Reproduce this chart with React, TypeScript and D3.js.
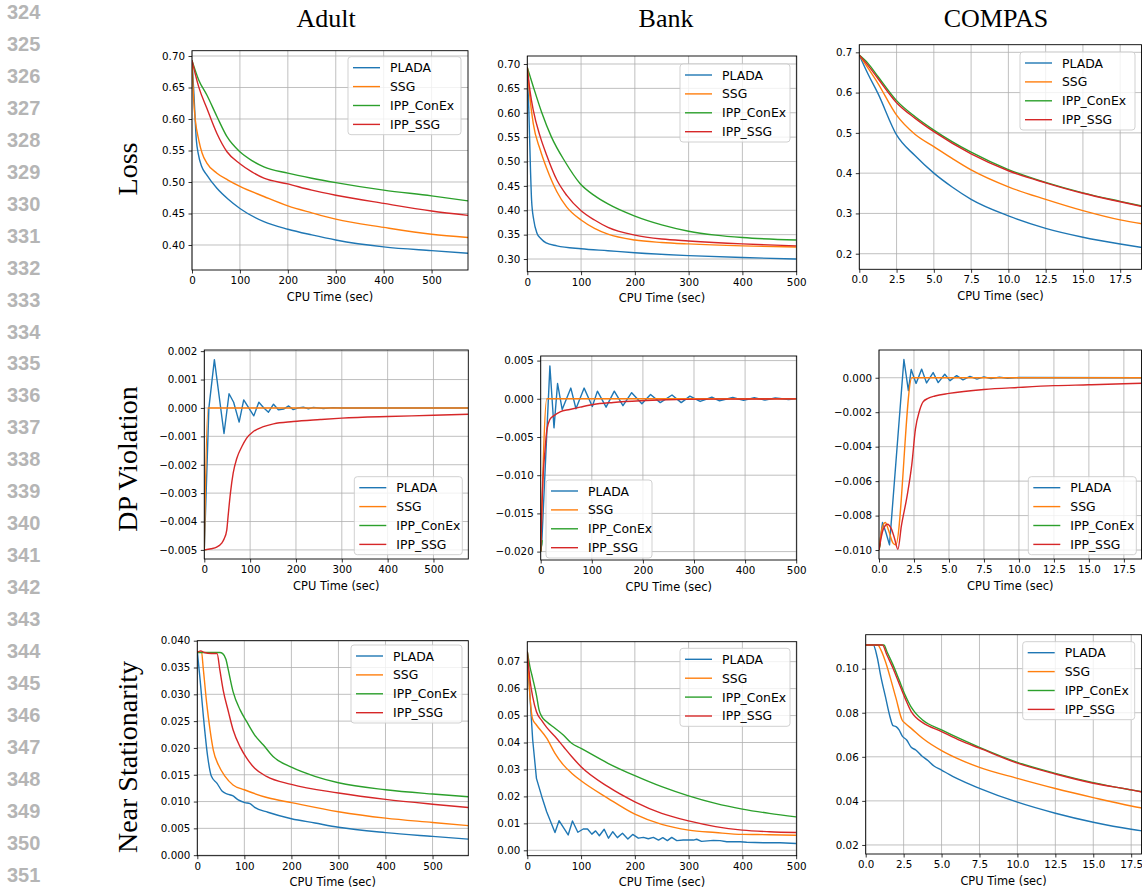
import React, { useRef, useEffect } from "react";
import * as d3 from "d3";

type Pt = [number, number];

const seriesNames = ["PLADA", "SSG", "IPP_ConEx", "IPP_SSG"];
const seriesColors = ["#1f77b4", "#ff7f0e", "#2ca02c", "#d62728"];
const datasetNames = ["Adult", "Bank", "COMPAS"];
const metricNames = ["Loss", "DP Violation", "Near Stationarity"];
const lineNumbers = [324, 325, 326, 327, 328, 329, 330, 331, 332, 333, 334, 335, 336, 337, 338, 339, 340, 341, 342, 343, 344, 345, 346, 347, 348, 349, 350, 351];

// tick values
const secondsTicks = [0, 100, 200, 300, 400, 500];
const compasTicks = [0, 2.5, 5, 7.5, 10, 12.5, 15, 17.5];
const adultLossTicks = [0.4, 0.45, 0.5, 0.55, 0.6, 0.65, 0.7];
const bankLossTicks = [0.3, 0.35, 0.4, 0.45, 0.5, 0.55, 0.6, 0.65, 0.7];
const compasLossTicks = [0.2, 0.3, 0.4, 0.5, 0.6, 0.7];
const adultDpTicks = [-0.005, -0.004, -0.003, -0.002, -0.001, 0, 0.001, 0.002];
const bankDpTicks = [-0.02, -0.015, -0.01, -0.005, 0, 0.005];
const compasDpTicks = [-0.01, -0.008, -0.006, -0.004, -0.002, 0];
const adultNsTicks = [0, 0.005, 0.01, 0.015, 0.02, 0.025, 0.03, 0.035, 0.04];
const bankNsTicks = [0, 0.01, 0.02, 0.03, 0.04, 0.05, 0.06, 0.07];
const compasNsTicks = [0.02, 0.04, 0.06, 0.08, 0.1];

// ---- Loss ----
const adultLossPLADA: Pt[] = [[0, 0.693], [4, 0.64], [9, 0.567], [13, 0.545], [20, 0.525], [30, 0.512], [52, 0.49], [75, 0.473], [100, 0.458], [150, 0.437], [200, 0.425], [250, 0.416], [300, 0.408], [400, 0.397], [500, 0.391], [576, 0.387]];
const adultLossSSG: Pt[] = [[0, 0.693], [3.5, 0.63], [7, 0.598], [14, 0.567], [21, 0.546], [31, 0.53], [52, 0.514], [75, 0.503], [100, 0.493], [150, 0.477], [200, 0.462], [250, 0.451], [300, 0.441], [400, 0.428], [500, 0.417], [576, 0.412]];
const adultLossConEx: Pt[] = [[0, 0.693], [14, 0.662], [31, 0.638], [52, 0.604], [73, 0.572], [100, 0.548], [125, 0.534], [150, 0.524], [200, 0.514], [250, 0.506], [300, 0.499], [400, 0.487], [500, 0.478], [576, 0.47]];
const adultLossIppSSG: Pt[] = [[0, 0.693], [14, 0.651], [31, 0.617], [52, 0.577], [73, 0.548], [100, 0.529], [125, 0.516], [150, 0.506], [200, 0.497], [250, 0.487], [300, 0.479], [400, 0.466], [500, 0.454], [576, 0.447]];

const bankLossPLADA: Pt[] = [[0, 0.693], [3, 0.6], [6, 0.48], [8, 0.42], [12, 0.38], [18, 0.353], [25, 0.342], [35, 0.333], [55, 0.327], [100, 0.321], [150, 0.317], [200, 0.313], [300, 0.307], [400, 0.303], [500, 0.3]];
const bankLossSSG: Pt[] = [[0, 0.693], [5, 0.63], [11, 0.578], [24, 0.524], [36, 0.486], [55, 0.438], [73, 0.407], [100, 0.38], [125, 0.363], [150, 0.351], [200, 0.339], [250, 0.334], [300, 0.331], [400, 0.327], [500, 0.3246]];
const bankLossConEx: Pt[] = [[0, 0.693], [11, 0.654], [27, 0.6], [45, 0.55], [70, 0.5], [98, 0.455], [125, 0.43], [150, 0.413], [200, 0.388], [250, 0.37], [300, 0.357], [350, 0.349], [400, 0.344], [500, 0.339]];
const bankLossIppSSG: Pt[] = [[0, 0.693], [5, 0.645], [11, 0.606], [24, 0.551], [36, 0.513], [55, 0.462], [73, 0.431], [100, 0.399], [125, 0.38], [150, 0.365], [200, 0.349], [250, 0.341], [300, 0.337], [400, 0.331], [500, 0.327]];

const compasLossPLADA: Pt[] = [[0, 0.693], [0.6, 0.645], [1.25, 0.598], [2.5, 0.495], [3.75, 0.443], [5, 0.4], [6.25, 0.365], [7.5, 0.335], [10, 0.294], [12.5, 0.263], [15, 0.241], [17.5, 0.224], [19, 0.215]];
const compasLossSSG: Pt[] = [[0, 0.693], [0.6, 0.66], [1.25, 0.623], [2.5, 0.544], [3.75, 0.496], [5, 0.466], [6.25, 0.436], [7.5, 0.408], [10, 0.366], [12.5, 0.335], [15, 0.307], [17.5, 0.284], [19, 0.274]];
const compasLossConEx: Pt[] = [[0, 0.693], [0.6, 0.672], [1.25, 0.64], [2.5, 0.58], [3.75, 0.54], [5, 0.507], [7.5, 0.452], [10, 0.409], [12.5, 0.377], [15, 0.351], [17.5, 0.33], [19, 0.318]];
const compasLossIppSSG: Pt[] = [[0, 0.693], [0.6, 0.667], [1.25, 0.635], [2.5, 0.575], [3.75, 0.536], [5, 0.503], [7.5, 0.448], [10, 0.406], [12.5, 0.376], [15, 0.35], [17.5, 0.329], [19, 0.317]];

// ---- DP Violation ----
const adultDpPLADA: Pt[] = [[0, -0.005], [10, 0], [22, 0.0017], [43, -0.0009], [54, 0.0005], [64, 0.0002], [76, -0.0005], [86, 0.00028], [97, 0], [108, -0.00028], [119, 0.0002], [130, 0], [140, -0.00015], [151, 0.00013], [162, -0.00007], [173, -0.00004], [184, 0.00007], [194, -0.00006], [205, 0], [216, 0.00003], [227, -0.00003], [238, 0.00002], [260, -0.00002], [280, 0.00001], [300, 0], [576, 0]];
const adultDpSSG: Pt[] = [[0, -0.005], [8, 0], [576, 0]];
const adultDpConEx: Pt[] = [[0, -0.005], [5, -0.00499]];
const adultDpIppSSG: Pt[] = [[0, -0.005], [15, -0.00496], [27, -0.0049], [38, -0.00476], [43, -0.00462], [49, -0.0043], [52, -0.0038], [57, -0.003], [63, -0.0023], [71, -0.00177], [82, -0.00136], [92, -0.00107], [107, -0.00083], [129, -0.00066], [151, -0.00056], [194, -0.00048], [253, -0.00041], [300, -0.00036], [400, -0.0003], [500, -0.00026], [576, -0.00022]];

const bankDpPLADA: Pt[] = [[0, -0.02], [2, -0.019], [18, 0.0043], [26, -0.0038], [33, 0.002], [42, -0.0014], [59, 0.0014], [69, -0.0013], [85, 0.0014], [101, -0.001], [111, 0.001], [128, -0.0011], [144, 0.001], [161, -0.0009], [178, 0.0008], [198, -0.00065], [215, 0.00057], [234, -0.0005], [257, 0.0005], [275, -0.0005], [292, 0.00035], [312, -0.00035], [335, 0.0002], [350, -0.00026], [376, 0.00017], [397, -0.0002], [418, 0.00013], [439, -0.00017], [459, 0.0001], [485, -0.0001], [500, 0]];
const bankDpSSG: Pt[] = [[0, -0.02], [12, 0], [500, 0]];
const bankDpConEx: Pt[] = [[0, -0.02], [3, -0.0185]];
const bankDpIppSSG: Pt[] = [[0, -0.02], [2, -0.015], [5, -0.0098], [8.5, -0.0067], [12, -0.0041], [18, -0.0027], [26, -0.0022], [38, -0.0017], [57, -0.0014], [77, -0.0011], [103, -0.00074], [142, -0.00048], [195, -0.00026], [247, -0.00013], [338, -0.00004], [500, -0.00001]];

const compasDpPLADA: Pt[] = [[0, -0.01], [0.25, -0.0084], [0.5, -0.009], [0.75, -0.0097], [1.78, 0.00106], [2.1, -0.00075], [2.3, 0.00048], [2.65, -0.00033], [3.05, 0.0005], [3.4, -0.0003], [3.87, 0.0003], [4.23, -0.00028], [4.7, 0.0002], [5.07, -0.00017], [5.55, 0.00012], [6, -0.00012], [6.5, 0.00008], [7, -0.00008], [7.5, 0.00005], [8, -0.00005], [8.6, 0.00003], [9.2, -0.00003], [10, 0.00001], [19, 0]];
const compasDpSSG: Pt[] = [[0, -0.01], [0.2, -0.0088], [0.45, -0.0084], [0.7, -0.0089], [1, -0.0096], [1.2, -0.0097], [2.35, 0], [19, 0]];
const compasDpConEx: Pt[] = [[0, -0.01], [0.1, -0.0096]];
const compasDpIppSSG: Pt[] = [[0, -0.01], [0.3, -0.0088], [0.6, -0.0085], [0.9, -0.0088], [1.1, -0.0093], [1.35, -0.00996], [1.6, -0.0086], [2, -0.0069], [2.35, -0.005], [2.6, -0.003], [2.9, -0.0019], [3.15, -0.0014], [3.5, -0.0012], [4, -0.00106], [5, -0.00091], [7.5, -0.00068], [10, -0.00056], [12.5, -0.00046], [15, -0.00041], [17.5, -0.00035], [19, -0.00031]];

// ---- Near Stationarity ----
const adultNsPLADA: Pt[] = [[0, 0.038], [6, 0.0327], [13, 0.0258], [22, 0.0184], [30, 0.0147], [42, 0.0134], [53, 0.0119], [64, 0.0114], [75, 0.0111], [87, 0.0103], [101, 0.0098], [112, 0.0096], [122, 0.0089], [150, 0.008], [200, 0.0068], [250, 0.006], [300, 0.0052], [400, 0.0042], [500, 0.0035], [576, 0.003]];
const adultNsSSG: Pt[] = [[0, 0.038], [9, 0.0378], [13, 0.0345], [20, 0.0283], [27, 0.0234], [34, 0.0196], [45, 0.0168], [59, 0.0147], [76, 0.0131], [100, 0.0122], [150, 0.0107], [200, 0.0098], [300, 0.0081], [400, 0.0069], [500, 0.0061], [576, 0.0055]];
const adultNsConEx: Pt[] = [[0, 0.0378], [48, 0.0378], [54, 0.0376], [61, 0.0365], [66, 0.0345], [76, 0.0305], [91, 0.0271], [105, 0.0249], [122, 0.0224], [140, 0.0206], [161, 0.0184], [200, 0.0164], [250, 0.0147], [300, 0.0135], [400, 0.0122], [500, 0.0114], [576, 0.0109]];
const adultNsIppSSG: Pt[] = [[0, 0.0378], [7, 0.0381], [15, 0.0378], [30, 0.0376], [42, 0.0376], [48, 0.0345], [55, 0.0308], [66, 0.0268], [76, 0.0234], [91, 0.0202], [105, 0.0181], [122, 0.0162], [147, 0.0147], [200, 0.0132], [300, 0.0116], [400, 0.0104], [500, 0.0095], [576, 0.0089]];

const bankNsPLADA: Pt[] = [[0, 0.0737], [5, 0.057], [10, 0.041], [17, 0.0267], [27, 0.0199], [36, 0.0143], [51.5, 0.0066], [59, 0.011], [76, 0.0057], [84, 0.0109], [94, 0.0067], [104, 0.0079], [112, 0.0079], [120, 0.006], [127, 0.0072], [134, 0.0054], [143, 0.0078], [151, 0.0045], [159, 0.0069], [167.5, 0.0047], [177, 0.0063], [187, 0.0042], [196, 0.0059], [206.5, 0.0045], [216, 0.0048], [225, 0.0043], [234.5, 0.0048], [244, 0.0038], [252, 0.0047], [260.5, 0.0036], [268.6, 0.0048], [278, 0.0036], [290, 0.0038], [309, 0.0038], [315, 0.0041], [324, 0.0033], [346, 0.0037], [358.5, 0.0036], [371, 0.0032], [396, 0.0032], [408, 0.003], [439, 0.0028], [470, 0.0028], [500, 0.0025]];
const bankNsSSG: Pt[] = [[0, 0.0737], [5, 0.057], [10, 0.0486], [17, 0.0465], [36, 0.0416], [51.5, 0.036], [67, 0.0317], [82.5, 0.0286], [100, 0.0258], [150, 0.0193], [200, 0.0134], [250, 0.0096], [300, 0.0075], [350, 0.0066], [400, 0.0059], [450, 0.0058], [500, 0.0056]];
const bankNsConEx: Pt[] = [[0, 0.0737], [5, 0.068], [10, 0.0638], [17, 0.0576], [22, 0.052], [27, 0.0496], [36, 0.0477], [51.5, 0.0453], [67, 0.0428], [82.5, 0.0397], [100, 0.0378], [150, 0.0323], [200, 0.0277], [250, 0.0236], [300, 0.0202], [350, 0.0174], [400, 0.0153], [450, 0.0137], [500, 0.0124]];
const bankNsIppSSG: Pt[] = [[0, 0.0737], [5, 0.0632], [10, 0.057], [17, 0.0514], [27, 0.0481], [36, 0.0456], [51.5, 0.0422], [67, 0.0385], [82.5, 0.0348], [100, 0.031], [150, 0.0236], [200, 0.018], [250, 0.0137], [300, 0.0109], [350, 0.0088], [400, 0.0075], [450, 0.0069], [500, 0.0066]];

const compasNsPLADA: Pt[] = [[0, 0.1107], [0.5, 0.1107], [0.75, 0.1054], [1, 0.0964], [1.3, 0.0873], [1.6, 0.0782], [1.8, 0.0741], [2, 0.0737], [2.2, 0.0722], [2.4, 0.0695], [2.7, 0.0676], [3, 0.0643], [3.3, 0.0631], [3.7, 0.0604], [4.1, 0.0583], [4.5, 0.0558], [5, 0.054], [5.5, 0.052], [6, 0.0502], [7.5, 0.0457], [10, 0.0394], [12.5, 0.0344], [15, 0.0303], [17.5, 0.0271], [19, 0.0257]];
const compasNsSSG: Pt[] = [[0, 0.1107], [0.8, 0.1107], [1, 0.1085], [1.3, 0.1032], [1.6, 0.0964], [2, 0.0865], [2.4, 0.0767], [2.6, 0.0752], [3, 0.0729], [3.75, 0.0684], [5, 0.0628], [6.25, 0.0586], [7.5, 0.0552], [10, 0.0502], [12.5, 0.0456], [15, 0.0415], [17.5, 0.0377], [19, 0.0358]];
const compasNsConEx: Pt[] = [[0, 0.1107], [1.2, 0.1107], [1.4, 0.1077], [1.8, 0.1017], [2.2, 0.0949], [2.6, 0.088], [3, 0.0825], [3.3, 0.0797], [3.75, 0.0767], [5, 0.0722], [6.25, 0.0681], [7.5, 0.0643], [10, 0.0575], [12.5, 0.0525], [15, 0.0483], [17.5, 0.045], [19, 0.0432]];
const compasNsIppSSG: Pt[] = [[0, 0.1107], [1.1, 0.1107], [1.4, 0.1062], [1.8, 0.1002], [2.2, 0.0933], [2.6, 0.0865], [3, 0.0805], [3.3, 0.0779], [3.75, 0.0755], [5, 0.0714], [6.25, 0.0673], [7.5, 0.0639], [10, 0.0571], [12.5, 0.0522], [15, 0.048], [17.5, 0.045], [19, 0.043]];

// zig-zag traces keep straight segments, everything else gets smoothed
const sharpSeries = [adultDpPLADA, bankDpPLADA, compasDpPLADA, bankNsPLADA];

// layout for each subplot (pixel box, axis extents, legend box)
const panels = [
  { box: [192, 468, 50.7, 270], xDomain: [0, 576], yDomain: [0.3603, 0.7084], xTicks: secondsTicks, yTicks: adultLossTicks, xFmt: "d", yFmt: ".2f", legend: [348, 56.7, 113], series: [adultLossPLADA, adultLossSSG, adultLossConEx, adultLossIppSSG] },
  { box: [527.3, 796.7, 56, 271.7], xDomain: [0, 501], yDomain: [0.274, 0.7164], xTicks: secondsTicks, yTicks: bankLossTicks, xFmt: "d", yFmt: ".2f", legend: [680, 64, 110], series: [bankLossPLADA, bankLossSSG, bankLossConEx, bankLossIppSSG] },
  { box: [859.3, 1141.5, 44.7, 269.3], xDomain: [0, 18.93], yDomain: [0.1613, 0.7189], xTicks: compasTicks, yTicks: compasLossTicks, xFmt: ".1f", yFmt: ".1f", legend: [1020, 52, 115], series: [compasLossPLADA, compasLossSSG, compasLossConEx, compasLossIppSSG] },
  { box: [204.3, 468.3, 350, 559], xDomain: [0, 576], yDomain: [-0.00532, 0.00204], xTicks: secondsTicks, yTicks: adultDpTicks, xFmt: "d", yFmt: ".3f", legend: [354.3, 476.7, 108], series: [adultDpPLADA, adultDpSSG, adultDpConEx, adultDpIppSSG] },
  { box: [540.7, 796.7, 356, 560], xDomain: [0, 501], yDomain: [-0.0211, 0.0056], xTicks: secondsTicks, yTicks: bankDpTicks, xFmt: "d", yFmt: ".3f", legend: [546, 480, 106], series: [bankDpPLADA, bankDpSSG, bankDpConEx, bankDpIppSSG] },
  { box: [879, 1141.5, 350, 559], xDomain: [0, 18.76], yDomain: [-0.01052, 0.00161], xTicks: compasTicks, yTicks: compasDpTicks, xFmt: ".1f", yFmt: ".3f", legend: [1028.3, 476.7, 108], series: [compasDpPLADA, compasDpSSG, compasDpConEx, compasDpIppSSG] },
  { box: [197.3, 468.3, 640.7, 855.7], xDomain: [0, 576], yDomain: [-0.0001, 0.04], xTicks: secondsTicks, yTicks: adultNsTicks, xFmt: "d", yFmt: ".3f", legend: [351, 645, 111], series: [adultNsPLADA, adultNsSSG, adultNsConEx, adultNsIppSSG] },
  { box: [527.3, 796.7, 641.7, 855.7], xDomain: [0, 501], yDomain: [-0.002, 0.0774], xTicks: secondsTicks, yTicks: bankNsTicks, xFmt: "d", yFmt: ".2f", legend: [680, 648.3, 110], series: [bankNsPLADA, bankNsSSG, bankNsConEx, bankNsIppSSG] },
  { box: [865.7, 1141.5, 634.7, 854], xDomain: [0, 18.18], yDomain: [0.0159, 0.1154], xTicks: compasTicks, yTicks: compasNsTicks, xFmt: ".1f", yFmt: ".2f", legend: [1022.7, 641.7, 112], series: [compasNsPLADA, compasNsSSG, compasNsConEx, compasNsIppSSG] },
];

const titlePos = [[326, 27], [666, 27], [996, 27]];
const rowLabelPos = [[127, 169], [127, 459], [127, 757]];

const SANS = "'DejaVu Sans', sans-serif";
const SERIF = "'Liberation Serif', 'Times New Roman', serif";

export default function App() {
  const svgRef = useRef<SVGSVGElement>(null);

  useEffect(() => {
    const svg = d3.select(svgRef.current);
    svg.selectAll("*").remove();

    svg.append("rect").attr("width", 1142).attr("height", 894).attr("fill", "#fff");

    // line numbers down the margin
    svg
      .append("g")
      .selectAll("text")
      .data(lineNumbers)
      .enter()
      .append("text")
      .attr("x", 7)
      .attr("y", (d, i) => 12 + i * 31.95)
      .attr("dominant-baseline", "central")
      .attr("font-family", "'Liberation Sans', Arial, sans-serif")
      .attr("font-weight", 700)
      .attr("font-size", 20)
      .attr("fill", "#b5b5b5")
      .text((d) => d);

    // column titles + row labels
    datasetNames.forEach((name, i) => {
      svg
        .append("text")
        .attr("x", titlePos[i][0])
        .attr("y", titlePos[i][1])
        .attr("text-anchor", "middle")
        .attr("font-family", SERIF)
        .attr("font-size", 26)
        .attr("fill", "#000")
        .text(name);
    });
    metricNames.forEach((name, i) => {
      svg
        .append("text")
        .attr("transform", `translate(${rowLabelPos[i][0]},${rowLabelPos[i][1]}) rotate(-90)`)
        .attr("text-anchor", "middle")
        .attr("dominant-baseline", "central")
        .attr("font-family", SERIF)
        .attr("font-size", 28)
        .attr("fill", "#000")
        .text(name);
    });

    panels.forEach((p, pi) => {
      const [left, right, top, bottom] = p.box;
      const x = d3.scaleLinear().domain(p.xDomain).range([left, right]);
      const y = d3.scaleLinear().domain(p.yDomain).range([bottom, top]);
      const g = svg.append("g");

      const clipId = `clip-${pi}`;
      g.append("clipPath")
        .attr("id", clipId)
        .append("rect")
        .attr("x", left)
        .attr("y", top)
        .attr("width", right - left)
        .attr("height", bottom - top);

      // grid
      g.selectAll("line.gx")
        .data(p.xTicks)
        .enter()
        .append("line")
        .attr("x1", (d) => x(d))
        .attr("x2", (d) => x(d))
        .attr("y1", top)
        .attr("y2", bottom)
        .attr("stroke", "#b0b0b0")
        .attr("stroke-width", 0.8);
      g.selectAll("line.gy")
        .data(p.yTicks)
        .enter()
        .append("line")
        .attr("x1", left)
        .attr("x2", right)
        .attr("y1", (d) => y(d))
        .attr("y2", (d) => y(d))
        .attr("stroke", "#b0b0b0")
        .attr("stroke-width", 0.8);

      // series
      const lg = g.append("g").attr("clip-path", `url(#${clipId})`);
      p.series.forEach((s, si) => {
        const line = d3
          .line<Pt>()
          .x((d) => x(d[0]))
          .y((d) => y(d[1]))
          .curve(sharpSeries.includes(s) ? d3.curveLinear : d3.curveMonotoneX);
        lg.append("path")
          .attr("d", line(s))
          .attr("fill", "none")
          .attr("stroke", seriesColors[si])
          .attr("stroke-width", 1.4)
          .attr("stroke-linejoin", "round");
      });

      // axes
      const xAxis = d3
        .axisBottom(x)
        .tickValues(p.xTicks)
        .tickFormat(d3.format(p.xFmt) as any)
        .tickSize(3.5)
        .tickPadding(3)
        .tickSizeOuter(0);
      const yAxis = d3
        .axisLeft(y)
        .tickValues(p.yTicks)
        .tickFormat(d3.format(p.yFmt) as any)
        .tickSize(3.5)
        .tickPadding(3.5)
        .tickSizeOuter(0);
      const gx = g.append("g").attr("transform", `translate(0,${bottom})`).call(xAxis);
      const gy = g.append("g").attr("transform", `translate(${left},0)`).call(yAxis);
      [gx, gy].forEach((ax) => {
        ax.select(".domain").remove();
        ax.selectAll(".tick line").attr("stroke", "#000").attr("stroke-width", 0.8);
        ax.selectAll(".tick text")
          .attr("fill", "#000")
          .style("font-family", SANS)
          .style("font-size", "10.3px");
      });

      // spines
      g.append("rect")
        .attr("x", left)
        .attr("y", top)
        .attr("width", right - left)
        .attr("height", bottom - top)
        .attr("fill", "none")
        .attr("stroke", "#000")
        .attr("stroke-width", 0.9);

      // x label
      g.append("text")
        .attr("x", (left + right) / 2)
        .attr("y", bottom + 26.5)
        .attr("text-anchor", "middle")
        .attr("dominant-baseline", "central")
        .style("font-family", SANS)
        .style("font-size", "11.4px")
        .attr("fill", "#000")
        .text("CPU Time (sec)");

      // legend
      const [lx, ly, lw] = p.legend;
      const leg = g.append("g").attr("transform", `translate(${lx},${ly})`);
      leg.append("rect")
        .attr("width", lw)
        .attr("height", 78)
        .attr("rx", 3)
        .attr("fill", "#fff")
        .attr("fill-opacity", 0.8)
        .attr("stroke", "#cccccc")
        .attr("stroke-width", 0.9);
      seriesNames.forEach((name, si) => {
        const cy = 11 + si * 18.9;
        leg.append("line")
          .attr("x1", 5)
          .attr("x2", 32)
          .attr("y1", cy)
          .attr("y2", cy)
          .attr("stroke", seriesColors[si])
          .attr("stroke-width", 1.4);
        leg.append("text")
          .attr("x", 42)
          .attr("y", cy)
          .attr("dominant-baseline", "central")
          .style("font-family", SANS)
          .style("font-size", "12.4px")
          .attr("fill", "#000")
          .text(name);
      });
    });
  }, []);

  return (
    <svg
      ref={svgRef}
      width={1142}
      height={894}
      style={{ position: "absolute", left: 0, top: 0, display: "block" }}
    />
  );
}
